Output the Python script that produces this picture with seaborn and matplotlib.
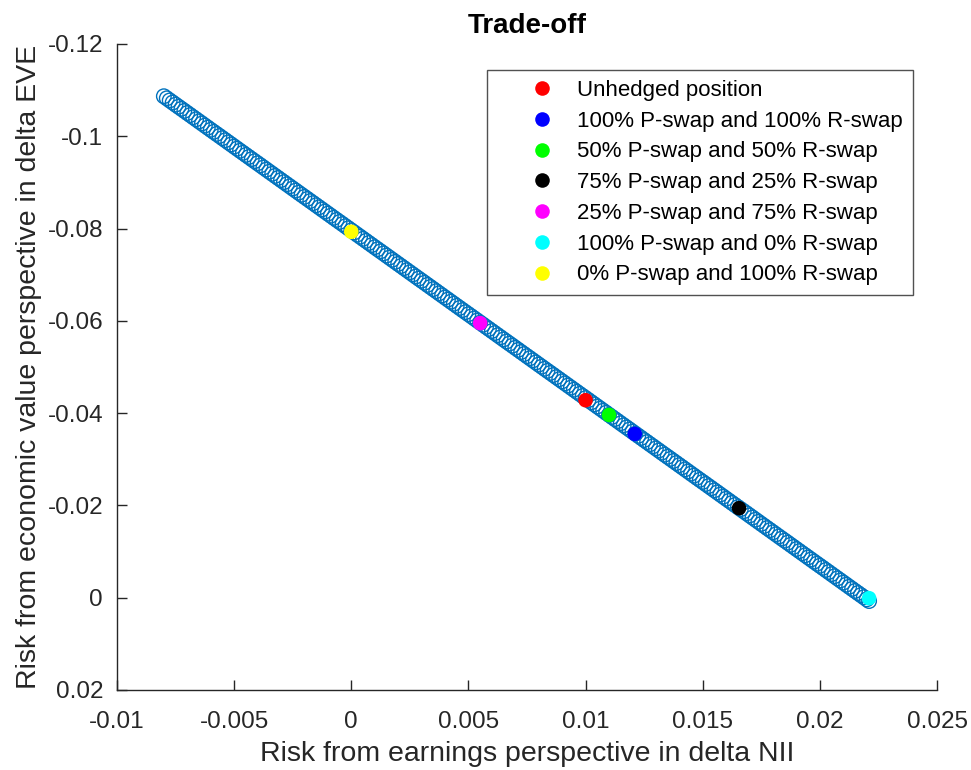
import numpy as np
import pandas as pd
import matplotlib
matplotlib.use("Agg")
import matplotlib.pyplot as plt
import matplotlib.ticker as mticker
import seaborn as sns

# frontier of hedge combinations (delta NII, delta EVE)
nii_frontier = [
    -0.008000, -0.007875, -0.007750, -0.007625, -0.007500, -0.007375, -0.007250, -0.007125,
    -0.007000, -0.006875, -0.006750, -0.006625, -0.006500, -0.006375, -0.006250, -0.006125,
    -0.006000, -0.005875, -0.005750, -0.005625, -0.005500, -0.005375, -0.005250, -0.005125,
    -0.005000, -0.004875, -0.004750, -0.004625, -0.004500, -0.004375, -0.004250, -0.004125,
    -0.004000, -0.003875, -0.003750, -0.003625, -0.003500, -0.003375, -0.003250, -0.003125,
    -0.003000, -0.002875, -0.002750, -0.002625, -0.002500, -0.002375, -0.002250, -0.002125,
    -0.002000, -0.001875, -0.001750, -0.001625, -0.001500, -0.001375, -0.001250, -0.001125,
    -0.001000, -0.000875, -0.000750, -0.000625, -0.000500, -0.000375, -0.000250, -0.000125,
    0.000000, 0.000125, 0.000250, 0.000375, 0.000500, 0.000625, 0.000750, 0.000875,
    0.001000, 0.001125, 0.001250, 0.001375, 0.001500, 0.001625, 0.001750, 0.001875,
    0.002000, 0.002125, 0.002250, 0.002375, 0.002500, 0.002625, 0.002750, 0.002875,
    0.003000, 0.003125, 0.003250, 0.003375, 0.003500, 0.003625, 0.003750, 0.003875,
    0.004000, 0.004125, 0.004250, 0.004375, 0.004500, 0.004625, 0.004750, 0.004875,
    0.005000, 0.005125, 0.005250, 0.005375, 0.005500, 0.005625, 0.005750, 0.005875,
    0.006000, 0.006125, 0.006250, 0.006375, 0.006500, 0.006625, 0.006750, 0.006875,
    0.007000, 0.007125, 0.007250, 0.007375, 0.007500, 0.007625, 0.007750, 0.007875,
    0.008000, 0.008125, 0.008250, 0.008375, 0.008500, 0.008625, 0.008750, 0.008875,
    0.009000, 0.009125, 0.009250, 0.009375, 0.009500, 0.009625, 0.009750, 0.009875,
    0.010000, 0.010125, 0.010250, 0.010375, 0.010500, 0.010625, 0.010750, 0.010875,
    0.011000, 0.011125, 0.011250, 0.011375, 0.011500, 0.011625, 0.011750, 0.011875,
    0.012000, 0.012125, 0.012250, 0.012375, 0.012500, 0.012625, 0.012750, 0.012875,
    0.013000, 0.013125, 0.013250, 0.013375, 0.013500, 0.013625, 0.013750, 0.013875,
    0.014000, 0.014125, 0.014250, 0.014375, 0.014500, 0.014625, 0.014750, 0.014875,
    0.015000, 0.015125, 0.015250, 0.015375, 0.015500, 0.015625, 0.015750, 0.015875,
    0.016000, 0.016125, 0.016250, 0.016375, 0.016500, 0.016625, 0.016750, 0.016875,
    0.017000, 0.017125, 0.017250, 0.017375, 0.017500, 0.017625, 0.017750, 0.017875,
    0.018000, 0.018125, 0.018250, 0.018375, 0.018500, 0.018625, 0.018750, 0.018875,
    0.019000, 0.019125, 0.019250, 0.019375, 0.019500, 0.019625, 0.019750, 0.019875,
    0.020000, 0.020125, 0.020250, 0.020375, 0.020500, 0.020625, 0.020750, 0.020875,
    0.021000, 0.021125, 0.021250, 0.021375, 0.021500, 0.021625, 0.021750, 0.021875,
    0.022000, 0.022100,
]
eve_frontier = [
    -0.10867, -0.10822, -0.10776, -0.10731, -0.10685, -0.10640, -0.10595, -0.10550,
    -0.10504, -0.10459, -0.10413, -0.10368, -0.10322, -0.10277, -0.10231, -0.10186,
    -0.10140, -0.10095, -0.10050, -0.10005, -0.09959, -0.09914, -0.09868, -0.09823,
    -0.09777, -0.09732, -0.09686, -0.09641, -0.09595, -0.09550, -0.09504, -0.09459,
    -0.09414, -0.09369, -0.09323, -0.09278, -0.09232, -0.09187, -0.09141, -0.09096,
    -0.09050, -0.09005, -0.08959, -0.08914, -0.08868, -0.08823, -0.08777, -0.08732,
    -0.08687, -0.08642, -0.08596, -0.08551, -0.08505, -0.08460, -0.08414, -0.08369,
    -0.08323, -0.08278, -0.08232, -0.08187, -0.08142, -0.08097, -0.08051, -0.08006,
    -0.07960, -0.07915, -0.07869, -0.07824, -0.07778, -0.07733, -0.07687, -0.07642,
    -0.07596, -0.07551, -0.07506, -0.07461, -0.07415, -0.07370, -0.07324, -0.07279,
    -0.07233, -0.07188, -0.07142, -0.07097, -0.07051, -0.07006, -0.06960, -0.06915,
    -0.06870, -0.06825, -0.06779, -0.06734, -0.06688, -0.06643, -0.06597, -0.06552,
    -0.06506, -0.06461, -0.06415, -0.06370, -0.06324, -0.06279, -0.06233, -0.06188,
    -0.06143, -0.06098, -0.06052, -0.06007, -0.05961, -0.05916, -0.05870, -0.05825,
    -0.05779, -0.05734, -0.05688, -0.05643, -0.05597, -0.05552, -0.05507, -0.05462,
    -0.05416, -0.05371, -0.05325, -0.05280, -0.05234, -0.05189, -0.05143, -0.05098,
    -0.05052, -0.05007, -0.04961, -0.04916, -0.04871, -0.04826, -0.04780, -0.04735,
    -0.04689, -0.04644, -0.04598, -0.04553, -0.04507, -0.04462, -0.04416, -0.04371,
    -0.04326, -0.04281, -0.04235, -0.04190, -0.04144, -0.04099, -0.04053, -0.04008,
    -0.03962, -0.03917, -0.03871, -0.03826, -0.03780, -0.03735, -0.03690, -0.03645,
    -0.03599, -0.03554, -0.03508, -0.03463, -0.03417, -0.03372, -0.03326, -0.03281,
    -0.03235, -0.03190, -0.03144, -0.03099, -0.03054, -0.03009, -0.02963, -0.02918,
    -0.02872, -0.02827, -0.02781, -0.02736, -0.02690, -0.02645, -0.02599, -0.02554,
    -0.02509, -0.02464, -0.02418, -0.02373, -0.02327, -0.02282, -0.02236, -0.02191,
    -0.02145, -0.02100, -0.02054, -0.02009, -0.01963, -0.01918, -0.01873, -0.01828,
    -0.01782, -0.01737, -0.01691, -0.01646, -0.01600, -0.01555, -0.01509, -0.01464,
    -0.01418, -0.01373, -0.01327, -0.01282, -0.01237, -0.01192, -0.01146, -0.01101,
    -0.01055, -0.01010, -0.00964, -0.00919, -0.00873, -0.00828, -0.00782, -0.00737,
    -0.00692, -0.00647, -0.00601, -0.00556, -0.00510, -0.00465, -0.00419, -0.00374,
    -0.00328, -0.00283, -0.00237, -0.00192, -0.00146, -0.00101, -0.00056, -0.00011,
    0.00035, 0.00072,
]

# highlighted strategies
strategies = [
    "Unhedged position",
    "100% P-swap and 100% R-swap",
    "50% P-swap and 50% R-swap",
    "75% P-swap and 25% R-swap",
    "25% P-swap and 75% R-swap",
    "100% P-swap and 0% R-swap",
    "0% P-swap and 100% R-swap",
]
strategy_nii = [0.0100, 0.0121, 0.0110, 0.01655, 0.0055, 0.0221, 0.0000]
strategy_eve = [-0.0428, -0.0355, -0.0396, -0.0194, -0.0595, 0.0001, -0.0793]
strategy_colors = ["#ff0000", "#0000ff", "#00ff00", "#000000", "#ff00ff", "#00ffff", "#ffff00"]

x_ticks = [-0.01, -0.005, 0, 0.005, 0.01, 0.015, 0.02, 0.025]
y_ticks = [-0.12, -0.1, -0.08, -0.06, -0.04, -0.02, 0, 0.02]

sns.set_style("white")
plt.rcParams['font.family'] = ['Liberation Sans', 'DejaVu Sans']
plt.rcParams['axes.unicode_minus'] = False

fig = plt.figure(figsize=(9.71, 7.7), dpi=100)
ax = fig.add_axes([0.1205, 0.1039, 0.8445, 0.839])

sns.scatterplot(x=nii_frontier, y=eve_frontier, s=110, facecolors="none",
                edgecolors="#0072BD", linewidth=1.0, ax=ax, legend=False)

df = pd.DataFrame({"nii": strategy_nii, "eve": strategy_eve, "strategy": strategies})
sns.scatterplot(data=df, x="nii", y="eve", hue="strategy", hue_order=strategies,
                palette=strategy_colors, s=110, linewidth=0, ax=ax)

ax.set_xlim(-0.01, 0.025)
ax.set_ylim(0.02, -0.12)
ax.set_xticks(x_ticks)
ax.set_yticks(y_ticks)
ax.xaxis.set_major_formatter(mticker.FormatStrFormatter('%g'))
ax.yaxis.set_major_formatter(mticker.FormatStrFormatter('%g'))
ax.tick_params(direction="in", length=7, width=1, labelsize=17.5, colors="#262626",
               left=True, bottom=True)
ax.tick_params(axis="y", pad=10)
ax.tick_params(axis="x", pad=15)
for side in ["top", "right"]:
    ax.spines[side].set_visible(False)
for side in ["left", "bottom"]:
    ax.spines[side].set_color("#262626")
    ax.spines[side].set_linewidth(1)

ax.set_title("Trade-off", fontsize=20, fontweight="bold", pad=8, color="black")
ax.set_xlabel("Risk from earnings perspective in delta NII", fontsize=20.5, color="#262626", labelpad=6)
ax.set_ylabel("Risk from economic value perspective in delta EVE", fontsize=20.5, color="#262626", labelpad=4)

handles, labels = ax.get_legend_handles_labels()
leg = ax.legend(handles, labels, loc="upper right", bbox_to_anchor=(0.971, 0.96),
                borderaxespad=0, fontsize=16, frameon=True, fancybox=False,
                edgecolor="#262626", markerscale=1.0, handlelength=4.0, handletextpad=-0.4,
                labelspacing=0.44, borderpad=0.45, labelcolor="black")
leg.get_frame().set_linewidth(1)

fig.savefig("out.png", dpi=100)
